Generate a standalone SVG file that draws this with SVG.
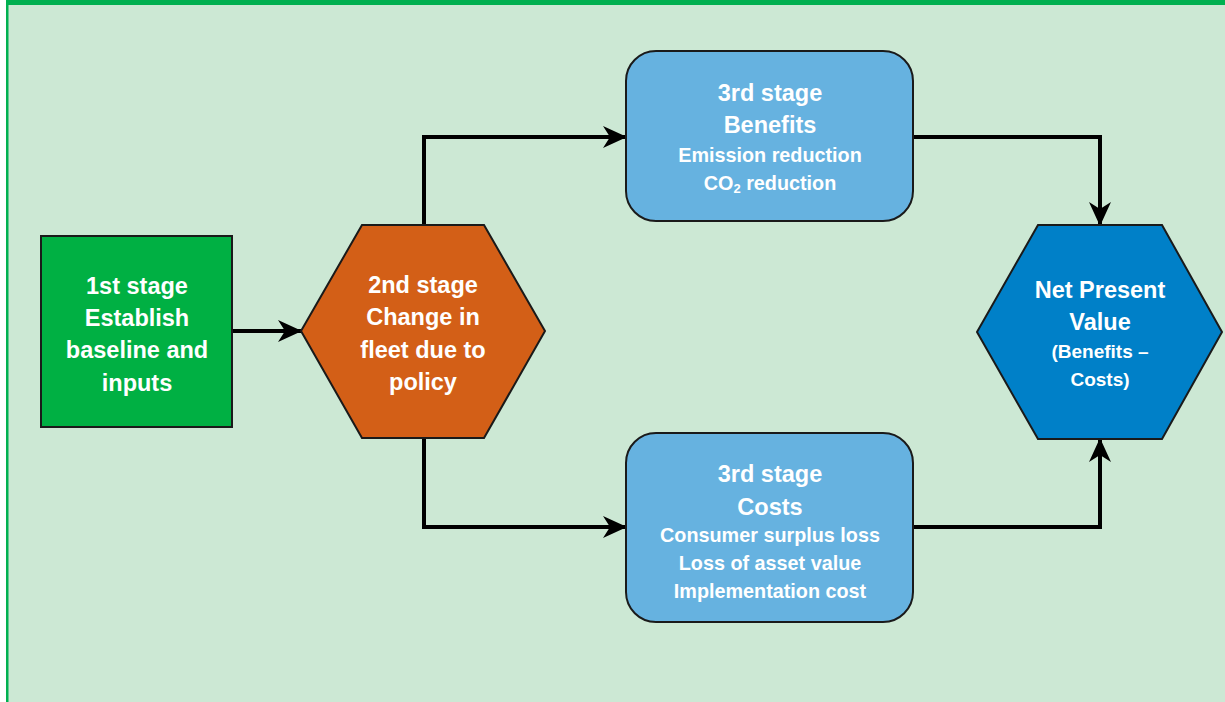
<svg xmlns="http://www.w3.org/2000/svg" width="1225" height="702" viewBox="0 0 1225 702">
<defs>
<style>
.t{font-family:"Liberation Sans",Arial,sans-serif;font-weight:bold;fill:#ffffff;text-anchor:middle}
.h{font-size:23.5px}
.s{font-size:19.8px}
.n{font-size:19px}
.node{stroke:#1a1a1a;stroke-width:2}
.c{fill:none;stroke:#000;stroke-width:4;marker-end:url(#arr)}
</style>
<marker id="arr" markerUnits="userSpaceOnUse" viewBox="0 0 24 24" refX="23" refY="12" markerWidth="24" markerHeight="24" orient="auto">
<path d="M0,1 L24,12 L0,23 L7,12 Z" fill="#000"/>
</marker>
</defs>
<rect x="0" y="0" width="1225" height="702" fill="#ffffff"/>
<rect x="8" y="5" width="1217" height="697" fill="#cce8d4"/>
<rect x="6" y="0" width="2.5" height="702" fill="#00b050"/>
<rect x="6" y="0" width="1219" height="5" fill="#00b050"/>

<g id="connectors">
<path class="c" d="M233,331 L301,331"/>
<path class="c" d="M424,225 L424,137 L626,137"/>
<path class="c" d="M424,438 L424,527 L626,527"/>
<path class="c" d="M913,137 L1100,137 L1100,225"/>
<path class="c" d="M913,527 L1100,527 L1100,439"/>
</g>

<g id="stage1">
<rect class="node" x="41" y="236" width="191" height="191" fill="#00b043"/>
<text class="t h" x="137" y="294">1st stage</text>
<text class="t h" x="137" y="326">Establish</text>
<text class="t h" x="137" y="358">baseline and</text>
<text class="t h" x="137" y="391">inputs</text>
</g>

<g id="stage2">
<polygon class="node" points="301,331 362,225 484,225 545,331 484,438 362,438" fill="#d35f17"/>
<text class="t h" x="423" y="293">2nd stage</text>
<text class="t h" x="423" y="325">Change in</text>
<text class="t h" x="423" y="358">fleet due to</text>
<text class="t h" x="423" y="390">policy</text>
</g>

<g id="benefits">
<rect class="node" x="626" y="51" width="287" height="170" rx="30" ry="30" fill="#66b2e0"/>
<text class="t h" x="770" y="101">3rd stage</text>
<text class="t h" x="770" y="133">Benefits</text>
<text class="t s" x="770" y="162">Emission reduction</text>
<text class="t s" x="770" y="190">CO<tspan font-size="13" dy="3">2</tspan><tspan dy="-3"> reduction</tspan></text>
</g>

<g id="costs">
<rect class="node" x="626" y="433" width="287" height="189" rx="30" ry="30" fill="#66b2e0"/>
<text class="t h" x="770" y="482">3rd stage</text>
<text class="t h" x="770" y="515">Costs</text>
<text class="t s" x="770" y="542">Consumer surplus loss</text>
<text class="t s" x="770" y="570">Loss of asset value</text>
<text class="t s" x="770" y="598">Implementation cost</text>
</g>

<g id="npv">
<polygon class="node" points="977,332 1038,225 1162,225 1222,332 1162,439 1038,439" fill="#0080c8"/>
<text class="t h" x="1100" y="298">Net Present</text>
<text class="t h" x="1100" y="330">Value</text>
<text class="t n" x="1100" y="358">(Benefits –</text>
<text class="t n" x="1100" y="386">Costs)</text>
</g>
</svg>
